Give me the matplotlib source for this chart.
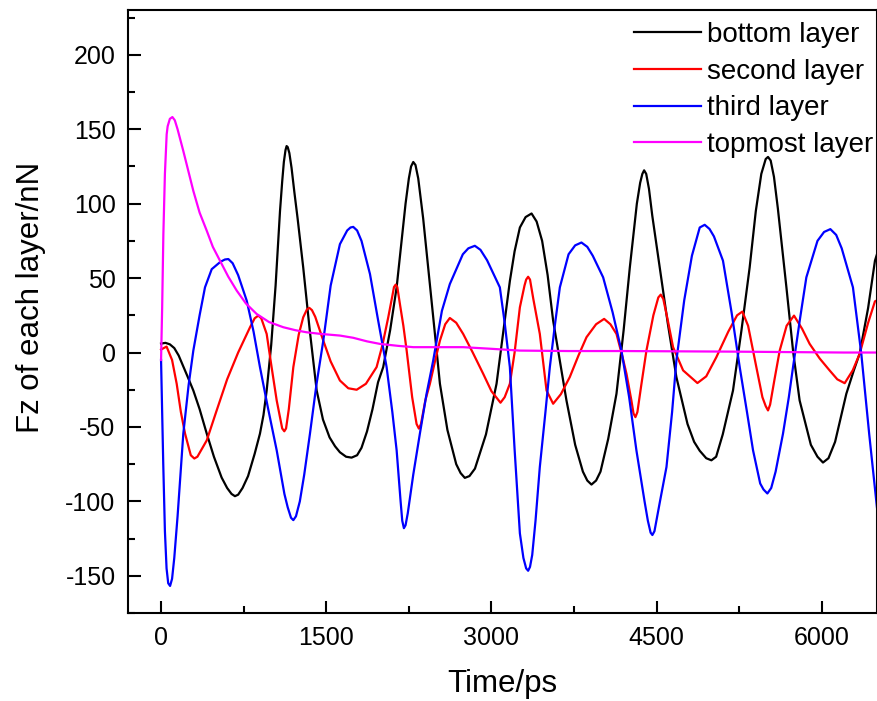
import matplotlib.pyplot as plt
from matplotlib.ticker import MultipleLocator

plt.rcParams["font.family"] = ["Liberation Sans", "DejaVu Sans"]
plt.rcParams["axes.unicode_minus"] = False

# bottom layer
BOTTOM_T = [0, 40, 80, 120, 160, 200, 240, 293, 350, 415, 480, 550, 600, 640, 671, 700,
            740, 790, 850, 898, 930, 959, 1000, 1040, 1080, 1100, 1115, 1130, 1140, 1150,
            1165, 1185, 1210, 1240, 1291, 1350, 1413, 1470, 1530, 1580, 1624, 1680, 1730,
            1780, 1820, 1870, 1920, 1970, 2017, 2080, 2139, 2180, 2220, 2250, 2270, 2290,
            2310, 2335, 2380, 2441, 2490, 2532, 2600, 2680, 2720, 2758, 2800, 2850, 2950,
            3046, 3100, 3167, 3210, 3258, 3310, 3364, 3410, 3460, 3510, 3560, 3620, 3681,
            3760, 3830, 3870, 3908, 3950, 3990, 4060, 4135, 4200, 4256, 4320, 4350, 4370,
            4386, 4405, 4430, 4460, 4528, 4600, 4679, 4780, 4840, 4891, 4950, 4997, 5040,
            5100, 5193, 5270, 5344, 5400, 5450, 5490, 5511, 5535, 5565, 5600, 5678, 5740,
            5798, 5900, 5960, 6010, 6060, 6120, 6222, 6290, 6343, 6420, 6482, 6500]
BOTTOM_F = [6, 6.5, 5.5, 3, -2, -9, -16, -25.5, -38, -54.5, -70, -84, -91, -95, -96.5, -95.5,
            -91, -83, -68, -54.5, -42, -25.5, 5, 45, 95, 115, 128, 136, 138.7, 138,
            134, 124, 108, 90, 57, 15, -25.5, -45, -57, -63, -67, -70, -70.6,
            -69, -64, -53, -38, -20, -9.8, 15, 43.8, 72, 100, 117, 125, 128,
            126, 117, 90, 46, 10, -21, -52, -75, -81, -84.2, -83, -78, -55,
            -21, 10, 48, 68, 84, 91, 93.4, 88, 75, 52, 21.4, -5, -32.2,
            -62, -80, -86, -88.7, -86, -80, -58, -27.7, 15, 57, 100, 114, 120,
            122.4, 120, 110, 92, 57, 20, -16.5, -48, -60, -66, -71, -72.4, -70,
            -55, -25.5, 15, 57, 95, 120, 130, 131.4, 129, 118, 97, 43.8, 0,
            -32.2, -62, -70, -73.9, -71, -60, -27.7, -12, -0.7, 30, 61.7, 66]

# second layer
SECOND_T = [0, 50, 100, 142, 180, 218, 270, 302, 330, 415, 500, 600, 700, 808, 850, 883,
            910, 959, 1000, 1050, 1100, 1119, 1135, 1160, 1201, 1250, 1291, 1325, 1346,
            1370, 1400, 1473, 1540, 1624, 1700, 1776, 1860, 1957, 2010, 2063, 2100, 2115,
            2130, 2145, 2170, 2200, 2230, 2280, 2320, 2341, 2360, 2400, 2441, 2490, 2532,
            2580, 2622, 2680, 2743, 2830, 2925, 3000, 3082, 3120, 3167, 3210, 3258, 3300,
            3315, 3333, 3350, 3380, 3439, 3500, 3560, 3630, 3711, 3790, 3863, 3950, 4023,
            4080, 4135, 4190, 4226, 4270, 4290, 4307, 4325, 4360, 4407, 4470, 4515, 4537,
            4560, 4600, 4649, 4740, 4870, 4950, 5042, 5150, 5230, 5278, 5330, 5405, 5460,
            5490, 5511, 5530, 5570, 5617, 5680, 5747, 5820, 5889, 5980, 6070, 6140, 6207,
            6280, 6343, 6420, 6482, 6500]
SECOND_F = [2, 4, -5, -21, -40, -54.5, -69, -71.2, -70, -59, -40, -18, 0, 17, 23, 24.8,
            23, 12.5, -8, -32.2, -51, -52.9, -51, -38, -9.8, 12, 23.7, 29, 30,
            28.5, 24, 8, -6, -18.8, -24, -25, -21, -9.8, 5, 23.7, 38, 44,
            45.6, 44, 32, 18, 1.3, -30, -48, -51.1, -48, -32, -21, -5, 8,
            19, 23.2, 20, 12.5, 0, -14.3, -26, -33.7, -30, -21, 0, 30.4, 45,
            49, 50.9, 49, 36, 12.5, -25.5, -34.4, -28, -16.5, -2, 10.3, 19, 22.6,
            19, 12.5, -3, -14.3, -32, -41, -43.4, -40, -22, 1.3, 25, 37, 38.9,
            36, 22, 3.6, -12, -20.5, -16, -3.1, 14, 25, 27.5, 18, -9.8, -30,
            -36, -38.9, -35, -18, 1.3, 18, 24.8, 16, 5.8, -4, -12, -18, -20.6,
            -12, -0.9, 20, 34.4, 35]

# third layer
THIRD_T = [0, 10, 20, 35, 50, 65, 82, 100, 120, 150, 202, 250, 293, 350, 399, 460, 540,
           580, 611, 650, 700, 778, 840, 898, 970, 1050, 1120, 1150, 1180, 1201, 1225,
           1260, 1300, 1352, 1410, 1473, 1540, 1624, 1690, 1720, 1745, 1780, 1820, 1897,
           1970, 2048, 2100, 2139, 2175, 2190, 2205, 2220, 2240, 2290, 2350, 2410, 2471,
           2550, 2622, 2740, 2790, 2849, 2900, 2960, 3076, 3120, 3167, 3210, 3258, 3290,
           3315, 3333, 3350, 3370, 3400, 3439, 3490, 3530, 3575, 3621, 3700, 3760, 3817,
           3870, 3920, 4014, 4100, 4180, 4250, 4316, 4390, 4420, 4445, 4461, 4480, 4530,
           4589, 4640, 4679, 4750, 4820, 4891, 4936, 4980, 5020, 5102, 5180, 5254, 5320,
           5375, 5440, 5470, 5505, 5540, 5580, 5647, 5700, 5738, 5800, 5859, 5960, 6020,
           6077, 6130, 6180, 6282, 6358, 6430, 6500]
THIRD_F = [-5, -40, -75, -120, -145, -155, -156.8, -152, -138, -110, -54.5, -22, 1.3, 25, 43.8, 56, 61,
           62.5, 62.8, 60, 52, 34.8, 14, -9.8, -37, -65.7, -95, -104, -111, -112.6, -110,
           -100, -82, -54.5, -22, 8, 45, 72.8, 82, 84, 84.4, 82, 75, 52.7,
           22, -9.8, -40, -65.7, -100, -113, -118, -116, -108, -82, -54.5, -28, -5.4,
           28, 46, 66, 70, 71.7, 69, 62, 43.8, 20, -9.8, -65, -121.5, -138,
           -145, -146.6, -144, -136, -113, -76.9, -40, -9.8, 18, 43.8, 66, 72, 73.9,
           71, 65, 50.5, 27, 1.3, -30, -65.7, -100, -113, -121, -122.6, -120, -100,
           -76.9, -40, -5.4, 35, 65, 84, 85.8, 83, 78, 61.7, 27, -9.8, -40,
           -65.7, -88, -92, -94.7, -91, -80, -54.5, -30, -9.8, 22, 50.5, 75, 81,
           82.9, 79, 70, 43.8, -0.9, -55, -104]

# topmost layer
TOP_T = [0, 10, 21, 35, 51, 60, 80, 103, 125, 150, 202, 293, 350, 415, 470, 535, 610, 687,
         770, 868, 980, 1110, 1220, 1322, 1450, 1624, 1745, 1870, 1987, 2150, 2290, 2500,
         2743, 3000, 3258, 3700, 4200, 4700, 5200, 5700, 6200, 6500]
TOP_F = [-5, 30, 79.5, 120, 146.6, 152, 157, 158.2, 156, 150, 135.4, 108.6, 94, 81.8, 71, 61.7, 51, 41.6,
         33, 25.9, 20.5, 17, 15, 13.6, 12.5, 11.4, 9.9, 7.5, 5.8, 4.5, 3.6, 3.6,
         3.6, 2.5, 1.3, 1, 1, 0.8, 0.6, 0.3, 0, 0]

SERIES = [
    (BOTTOM_T, BOTTOM_F, "black", "bottom layer"),
    (SECOND_T, SECOND_F, "#ff0000", "second layer"),
    (THIRD_T, THIRD_F, "#0000ff", "third layer"),
    (TOP_T, TOP_F, "#ff00ff", "topmost layer"),
]


def main():
    fig = plt.figure(figsize=(8.78, 7.01), dpi=100)
    ax = fig.add_axes([0.1458, 0.1255, 0.853, 0.860])

    for t, f, color, label in SERIES:
        ax.plot(t, f, color=color, linewidth=1.6, label=label)

    ax.set_xlim(-300, 6500)
    ax.set_ylim(-175, 230)

    ax.xaxis.set_major_locator(MultipleLocator(1500))
    ax.xaxis.set_minor_locator(MultipleLocator(750))
    ax.yaxis.set_major_locator(MultipleLocator(50))
    ax.yaxis.set_minor_locator(MultipleLocator(25))

    ax.tick_params(which="both", direction="in", width=1.5, labelsize=18,
                   top=False, right=False)
    ax.tick_params(which="major", length=9, pad=9)
    ax.tick_params(which="minor", length=5)

    for spine in ax.spines.values():
        spine.set_linewidth(1.5)

    ax.set_xlabel("Time/ps", fontsize=22.5, labelpad=14)
    ax.set_ylabel("Fz of each layer/nN", fontsize=22.5)
    ax.yaxis.set_label_coords(-0.109, 0.524)

    ax.legend(loc="upper right", bbox_to_anchor=(1.0, 0.987), frameon=False,
              fontsize=20, handlelength=2.4, handletextpad=0.2,
              labelspacing=0.38, borderpad=0.1, borderaxespad=0.05)

    fig.savefig("out.png", dpi=100)


if __name__ == "__main__":
    main()
